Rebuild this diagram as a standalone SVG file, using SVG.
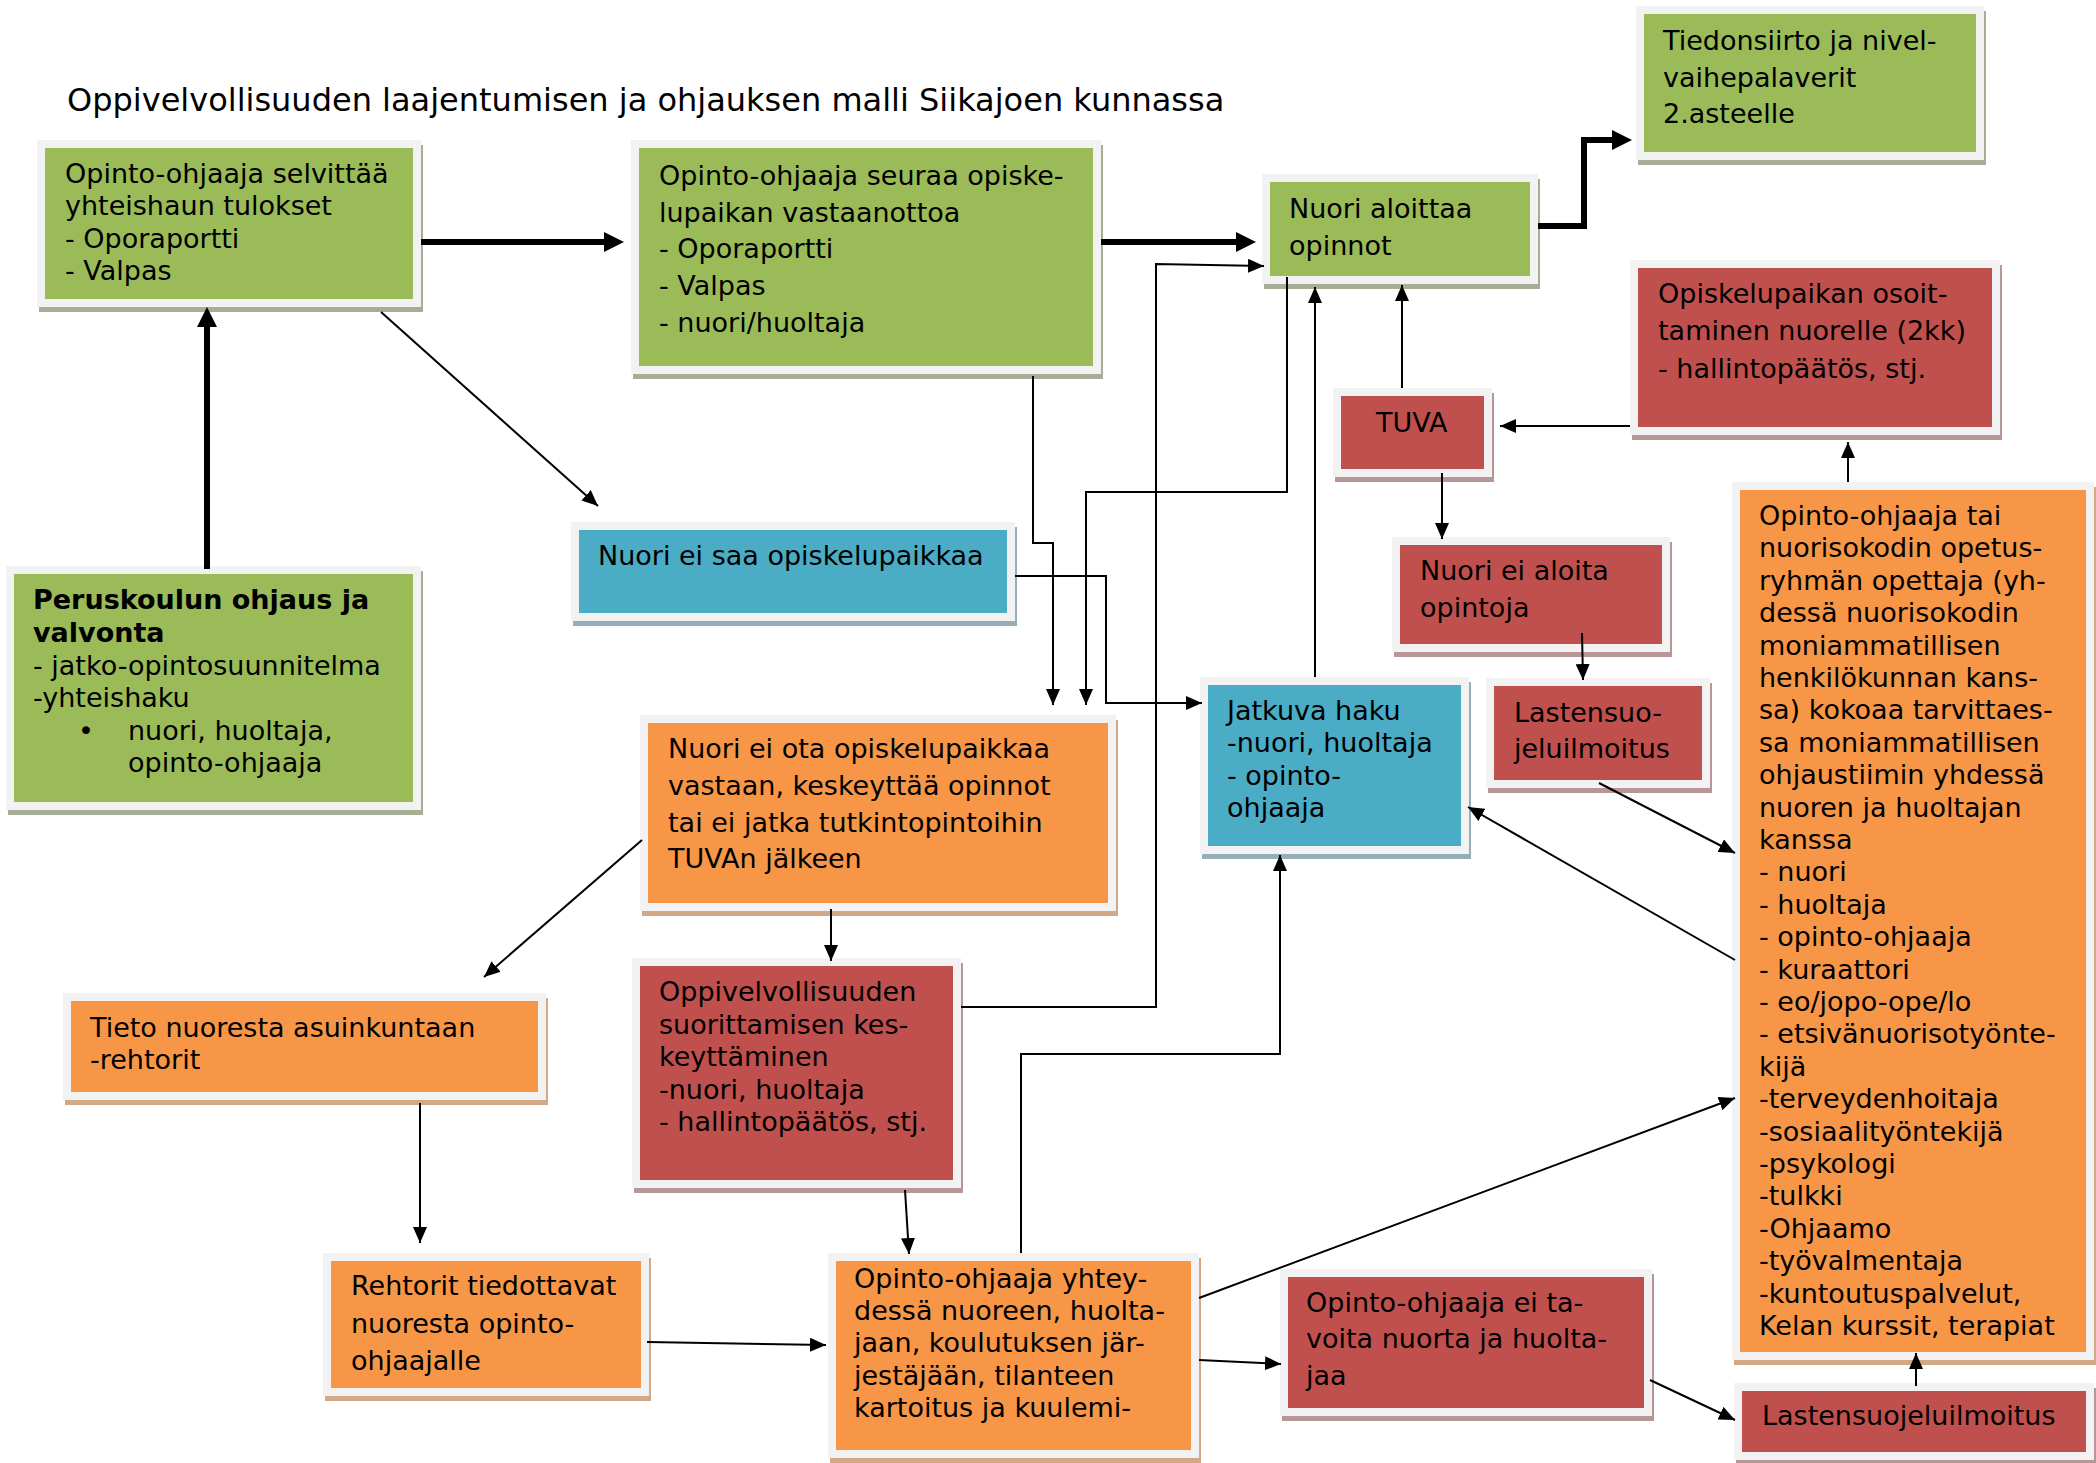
<svg xmlns="http://www.w3.org/2000/svg" width="2096" height="1463" viewBox="0 0 2096 1463">
<style>
.frame{fill:#f2f2f2}
.green .fill{fill:#9bbb59}.green .shadow{fill:#a7ae95}
.red .fill{fill:#c0504d}.red .shadow{fill:#b99696}
.blue .fill{fill:#4bacc6}.blue .shadow{fill:#95aeb8}
.orange .fill{fill:#f79646}.orange .shadow{fill:#d2a986}
text{font-family:"DejaVu Sans",Verdana,sans-serif;font-size:27px;fill:#000}
.title{font-size:32px}
.b{font-weight:bold}
.c{fill:none;stroke:#000;stroke-width:2}
.thick{stroke-width:6}
</style>
<defs>
<marker id="ah" markerUnits="userSpaceOnUse" markerWidth="16" markerHeight="14" refX="16" refY="7" orient="auto"><path d="M0,0 L16,7 L0,14 z" fill="#000"/></marker>
<marker id="ahT" markerUnits="userSpaceOnUse" markerWidth="20" markerHeight="20" refX="8" refY="10" orient="auto"><path d="M0,0 L20,10 L0,20 z" fill="#000"/></marker>
</defs>
<rect width="2096" height="1463" fill="#fff"/>
<text class="title" x="67" y="111">Oppivelvollisuuden laajentumisen ja ohjauksen malli Siikajoen kunnassa</text>

<g id="n1" class="green">
<rect class="shadow" x="39" y="145" width="384" height="167"/>
<rect class="frame" x="37" y="140" width="384" height="167"/>
<rect class="fill" x="45" y="148" width="368" height="151"/>
<text><tspan x="65" y="183">Opinto-ohjaaja selvittää</tspan><tspan x="65" y="215">yhteishaun tulokset</tspan><tspan x="65" y="248">- Oporaportti</tspan><tspan x="65" y="280">- Valpas</tspan></text>
</g>

<g id="n2" class="green">
<rect class="shadow" x="633" y="145" width="470" height="234"/>
<rect class="frame" x="631" y="140" width="470" height="234"/>
<rect class="fill" x="639" y="148" width="454" height="218"/>
<text><tspan x="659" y="185">Opinto-ohjaaja seuraa opiske-</tspan><tspan x="659" y="222">lupaikan vastaanottoa</tspan><tspan x="659" y="258">- Oporaportti</tspan><tspan x="659" y="295">- Valpas</tspan><tspan x="659" y="332">- nuori/huoltaja</tspan></text>
</g>

<g id="n3" class="green">
<rect class="shadow" x="1264" y="179" width="276" height="110"/>
<rect class="frame" x="1262" y="174" width="276" height="110"/>
<rect class="fill" x="1270" y="182" width="260" height="94"/>
<text><tspan x="1289" y="218">Nuori aloittaa</tspan><tspan x="1289" y="255">opinnot</tspan></text>
</g>

<g id="n4" class="green">
<rect class="shadow" x="1638" y="11" width="348" height="154"/>
<rect class="frame" x="1636" y="6" width="348" height="154"/>
<rect class="fill" x="1644" y="14" width="332" height="138"/>
<text><tspan x="1663" y="50">Tiedonsiirto ja nivel-</tspan><tspan x="1663" y="87">vaihepalaverit</tspan><tspan x="1663" y="123">2.asteelle</tspan></text>
</g>

<g id="n5" class="red">
<rect class="shadow" x="1632" y="265" width="370" height="175"/>
<rect class="frame" x="1630" y="260" width="370" height="175"/>
<rect class="fill" x="1638" y="268" width="354" height="159"/>
<text><tspan x="1658" y="303">Opiskelupaikan osoit-</tspan><tspan x="1658" y="340">taminen nuorelle (2kk)</tspan><tspan x="1658" y="378">- hallintopäätös, stj.</tspan></text>
</g>

<g id="n6" class="red">
<rect class="shadow" x="1335" y="393" width="159" height="89"/>
<rect class="frame" x="1333" y="388" width="159" height="89"/>
<rect class="fill" x="1341" y="396" width="143" height="73"/>
<text x="1376" y="432">TUVA</text>
</g>

<g id="n7" class="blue">
<rect class="shadow" x="573" y="527" width="444" height="99"/>
<rect class="frame" x="571" y="522" width="444" height="99"/>
<rect class="fill" x="579" y="530" width="428" height="83"/>
<text x="598" y="565">Nuori ei saa opiskelupaikkaa</text>
</g>

<g id="n8" class="green">
<rect class="shadow" x="8" y="571" width="415" height="244"/>
<rect class="frame" x="6" y="566" width="415" height="244"/>
<rect class="fill" x="14" y="574" width="399" height="228"/>
<text><tspan class="b" x="33" y="609">Peruskoulun ohjaus ja</tspan><tspan class="b" x="33" y="642">valvonta</tspan><tspan x="33" y="675">- jatko-opintosuunnitelma</tspan><tspan x="33" y="707">-yhteishaku</tspan><tspan x="78" y="740">•</tspan><tspan x="128" y="740">nuori, huoltaja,</tspan><tspan x="128" y="772">opinto-ohjaaja</tspan></text>
</g>

<g id="n9" class="red">
<rect class="shadow" x="1394" y="542" width="278" height="115"/>
<rect class="frame" x="1392" y="537" width="278" height="115"/>
<rect class="fill" x="1400" y="545" width="262" height="99"/>
<text><tspan x="1420" y="580">Nuori ei aloita</tspan><tspan x="1420" y="617">opintoja</tspan></text>
</g>

<g id="n10" class="red">
<rect class="shadow" x="1488" y="683" width="224" height="110"/>
<rect class="frame" x="1486" y="678" width="224" height="110"/>
<rect class="fill" x="1494" y="686" width="208" height="94"/>
<text><tspan x="1514" y="722">Lastensuo-</tspan><tspan x="1514" y="758">jeluilmoitus</tspan></text>
</g>

<g id="n11" class="orange">
<rect class="shadow" x="642" y="720" width="476" height="196"/>
<rect class="frame" x="640" y="715" width="476" height="196"/>
<rect class="fill" x="648" y="723" width="460" height="180"/>
<text><tspan x="668" y="758">Nuori ei ota opiskelupaikkaa</tspan><tspan x="668" y="795">vastaan, keskeyttää opinnot</tspan><tspan x="668" y="832">tai ei jatka tutkintopintoihin</tspan><tspan x="668" y="868">TUVAn jälkeen</tspan></text>
</g>

<g id="n12" class="blue">
<rect class="shadow" x="1202" y="682" width="269" height="177"/>
<rect class="frame" x="1200" y="677" width="269" height="177"/>
<rect class="fill" x="1208" y="685" width="253" height="161"/>
<text><tspan x="1227" y="720">Jatkuva haku</tspan><tspan x="1227" y="752">-nuori, huoltaja</tspan><tspan x="1227" y="785">- opinto-</tspan><tspan x="1227" y="817">ohjaaja</tspan></text>
</g>

<g id="n13" class="orange">
<rect class="shadow" x="1734" y="487" width="362" height="878"/>
<rect class="frame" x="1732" y="482" width="362" height="878"/>
<rect class="fill" x="1740" y="490" width="346" height="862"/>
<text><tspan x="1759" y="525">Opinto-ohjaaja tai</tspan><tspan x="1759" dy="32.4">nuorisokodin opetus-</tspan><tspan x="1759" dy="32.4">ryhmän opettaja (yh-</tspan><tspan x="1759" dy="32.4">dessä nuorisokodin</tspan><tspan x="1759" dy="32.4">moniammatillisen</tspan><tspan x="1759" dy="32.4">henkilökunnan kans-</tspan><tspan x="1759" dy="32.4">sa) kokoaa tarvittaes-</tspan><tspan x="1759" dy="32.4">sa moniammatillisen</tspan><tspan x="1759" dy="32.4">ohjaustiimin yhdessä</tspan><tspan x="1759" dy="32.4">nuoren ja huoltajan</tspan><tspan x="1759" dy="32.4">kanssa</tspan><tspan x="1759" dy="32.4">- nuori</tspan><tspan x="1759" dy="32.4">- huoltaja</tspan><tspan x="1759" dy="32.4">- opinto-ohjaaja</tspan><tspan x="1759" dy="32.4">- kuraattori</tspan><tspan x="1759" dy="32.4">- eo/jopo-ope/lo</tspan><tspan x="1759" dy="32.4">- etsivänuorisotyönte-</tspan><tspan x="1759" dy="32.4">kijä</tspan><tspan x="1759" dy="32.4">-terveydenhoitaja</tspan><tspan x="1759" dy="32.4">-sosiaalityöntekijä</tspan><tspan x="1759" dy="32.4">-psykologi</tspan><tspan x="1759" dy="32.4">-tulkki</tspan><tspan x="1759" dy="32.4">-Ohjaamo</tspan><tspan x="1759" dy="32.4">-työvalmentaja</tspan><tspan x="1759" dy="32.4">-kuntoutuspalvelut,</tspan><tspan x="1759" dy="32.4">Kelan kurssit, terapiat</tspan></text>
</g>

<g id="n14" class="orange">
<rect class="shadow" x="65" y="998" width="483" height="107"/>
<rect class="frame" x="63" y="993" width="483" height="107"/>
<rect class="fill" x="71" y="1001" width="467" height="91"/>
<text><tspan x="90" y="1037">Tieto nuoresta asuinkuntaan</tspan><tspan x="90" y="1069">-rehtorit</tspan></text>
</g>

<g id="n15" class="red">
<rect class="shadow" x="634" y="963" width="329" height="230"/>
<rect class="frame" x="632" y="958" width="329" height="230"/>
<rect class="fill" x="640" y="966" width="313" height="214"/>
<text><tspan x="659" y="1001">Oppivelvollisuuden</tspan><tspan x="659" y="1033.5">suorittamisen kes-</tspan><tspan x="659" y="1066">keyttäminen</tspan><tspan x="659" y="1098.5">-nuori, huoltaja</tspan><tspan x="659" y="1131">- hallintopäätös, stj.</tspan></text>
</g>

<g id="n16" class="orange">
<rect class="shadow" x="325" y="1258" width="326" height="143"/>
<rect class="frame" x="323" y="1253" width="326" height="143"/>
<rect class="fill" x="331" y="1261" width="310" height="127"/>
<text><tspan x="351" y="1295">Rehtorit tiedottavat</tspan><tspan x="351" y="1333">nuoresta opinto-</tspan><tspan x="351" y="1370">ohjaajalle</tspan></text>
</g>

<g id="n17" class="orange">
<rect class="shadow" x="830" y="1258" width="371" height="205"/>
<rect class="frame" x="828" y="1253" width="371" height="205"/>
<rect class="fill" x="836" y="1261" width="355" height="189"/>
<text><tspan x="854" y="1288">Opinto-ohjaaja yhtey-</tspan><tspan x="854" y="1320">dessä nuoreen, huolta-</tspan><tspan x="854" y="1352">jaan, koulutuksen jär-</tspan><tspan x="854" y="1385">jestäjään, tilanteen</tspan><tspan x="854" y="1417">kartoitus ja kuulemi-</tspan></text>
</g>

<g id="n18" class="red">
<rect class="shadow" x="1282" y="1274" width="372" height="147"/>
<rect class="frame" x="1280" y="1269" width="372" height="147"/>
<rect class="fill" x="1288" y="1277" width="356" height="131"/>
<text><tspan x="1306" y="1312">Opinto-ohjaaja ei ta-</tspan><tspan x="1306" y="1348">voita nuorta ja huolta-</tspan><tspan x="1306" y="1385">jaa</tspan></text>
</g>

<g id="n19" class="red">
<rect class="shadow" x="1736" y="1388" width="360" height="77"/>
<rect class="frame" x="1734" y="1383" width="360" height="77"/>
<rect class="fill" x="1742" y="1391" width="344" height="61"/>
<text x="1762" y="1425">Lastensuojeluilmoitus</text>
</g>

<g id="connectors">
<path class="c thick" d="M421,242 H612" marker-end="url(#ahT)"/>
<path class="c thick" d="M1101,242 H1244" marker-end="url(#ahT)"/>
<path class="c thick" d="M1538,226 H1584 V140 H1620" marker-end="url(#ahT)"/>
<path class="c thick" d="M207,569 V319" marker-end="url(#ahT)"/>
<path class="c" d="M381,312 L598,506" marker-end="url(#ah)"/>
<path class="c" d="M1033,376 V543 H1053 V705" marker-end="url(#ah)"/>
<path class="c" d="M1287,277 V492 H1086 V705" marker-end="url(#ah)"/>
<path class="c" d="M1015,576 H1106 V703 H1202" marker-end="url(#ah)"/>
<path class="c" d="M961,1007 H1156 V264 L1264,266" marker-end="url(#ah)"/>
<path class="c" d="M1315,677 V287" marker-end="url(#ah)"/>
<path class="c" d="M1402,388 V285" marker-end="url(#ah)"/>
<path class="c" d="M1630,426 H1500" marker-end="url(#ah)"/>
<path class="c" d="M1848,482 V442" marker-end="url(#ah)"/>
<path class="c" d="M1442,473 V539" marker-end="url(#ah)"/>
<path class="c" d="M1582,633 L1583,680" marker-end="url(#ah)"/>
<path class="c" d="M1599,783 L1735,853" marker-end="url(#ah)"/>
<path class="c" d="M1735,960 L1468,807" marker-end="url(#ah)"/>
<path class="c" d="M1021,1253 V1054 H1280 V855" marker-end="url(#ah)"/>
<path class="c" d="M642,840 L484,977" marker-end="url(#ah)"/>
<path class="c" d="M831,909 V961" marker-end="url(#ah)"/>
<path class="c" d="M420,1103 V1243" marker-end="url(#ah)"/>
<path class="c" d="M647,1342 L826,1345" marker-end="url(#ah)"/>
<path class="c" d="M905,1190 L909,1254" marker-end="url(#ah)"/>
<path class="c" d="M1199,1298 L1735,1098" marker-end="url(#ah)"/>
<path class="c" d="M1199,1360 L1281,1364" marker-end="url(#ah)"/>
<path class="c" d="M1650,1380 L1735,1420" marker-end="url(#ah)"/>
<path class="c" d="M1916,1386 V1353" marker-end="url(#ah)"/>
</g>
</svg>
